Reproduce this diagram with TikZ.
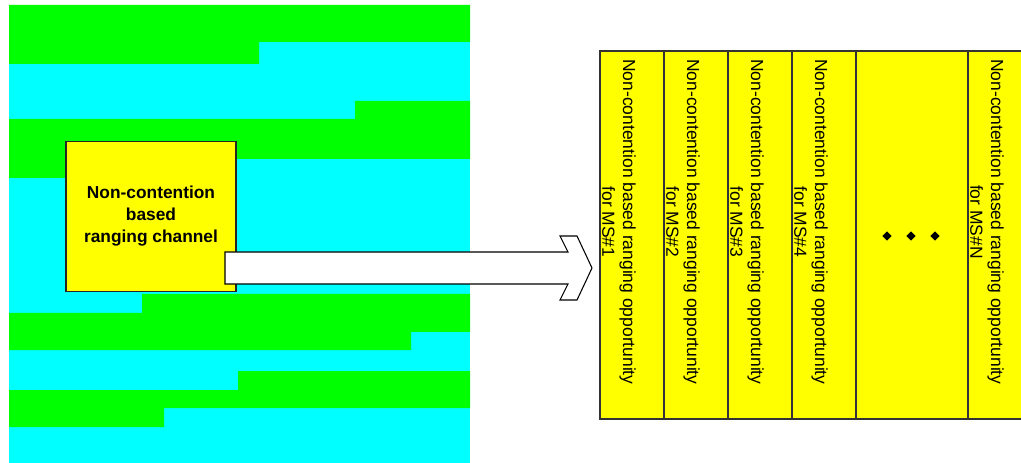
\documentclass[tikz,border=0pt]{standalone}
\usepackage{fontspec}
\setmainfont{Liberation Sans}
\usetikzlibrary{shapes.geometric}
\definecolor{bandgreen}{RGB}{0,255,0}
\definecolor{bandcyan}{RGB}{0,255,255}
\definecolor{slotyellow}{RGB}{255,255,0}
\tikzset{
    green-band/.style = {fill=bandgreen},
    cyan-band/.style = {fill=bandcyan},
    channel-box/.style = {draw=black!85, fill=slotyellow, line width=0.8pt, rectangle, minimum width=127.5pt, minimum height=113pt, align=center, font=\fontsize{13}{16.5}\selectfont\bfseries},
    slot-box/.style = {draw=black!80, fill=slotyellow, line width=0.8pt},
    slot-label/.style = {rotate=-90, align=center, font=\fontsize{13.1}{15.6}\selectfont, inner sep=0pt},
    block-arrow/.style = {draw=black, fill=white, line width=0.8pt, line join=miter},
    dot-mark/.style = {diamond, fill=black, inner sep=0pt, minimum size=7pt},
}

\begin{document}
\begin{tikzpicture}[x=0.75pt, y=-0.75pt]
\useasboundingbox (0,0) rectangle (1021,463);
\clip (0,0) rectangle (1021,463);

% frame with its staircase bands
\fill[cyan-band] (9,5) rectangle (470,463);
\fill[green-band] (9,5) -- (470,5) -- (470,42) -- (259,42) -- (259,64) -- (9,64) -- cycle;
\fill[green-band] (9,119) -- (355,119) -- (355,101) -- (470,101) -- (470,159) -- (150,159) -- (150,178) -- (9,178) -- cycle;
\fill[green-band] (9,313) -- (142,313) -- (142,294) -- (470,294) -- (470,332) -- (411,332) -- (411,350) -- (9,350) -- cycle;
\fill[green-band] (9,390) -- (238,390) -- (238,371) -- (470,371) -- (470,408) -- (164,408) -- (164,427) -- (9,427) -- cycle;

\node[channel-box] (chan) at (151,216.5) {Non-contention\\based\\ranging channel};

% ranging opportunities
\foreach \x/\n in {600/1,664/2,728/3,792/4,968/N} {
    \draw[slot-box] (\x,51) rectangle ++(64,368);
    \node[slot-label] (slot\n) at (\x+19,222) {Non-contention based ranging opportunity\\for MS\#\n};
}
\draw[slot-box] (856,51) rectangle (968,419);
\foreach \x [count=\i] in {887,911,935}
    \node[dot-mark] (dot\i) at (\x,236) {};

% mapping arrow
\coordinate (arrow-tail) at (225,268);
\coordinate (arrow-tip) at (592,268);
\draw[block-arrow] ([yshift=12pt]arrow-tail) -- ([xshift=-18pt,yshift=12pt]arrow-tip)
    -- ([xshift=-24pt,yshift=24pt]arrow-tip) -- ([xshift=-11.25pt,yshift=24pt]arrow-tip)
    -- (arrow-tip) -- ([xshift=-11.25pt,yshift=-24pt]arrow-tip)
    -- ([xshift=-24pt,yshift=-24pt]arrow-tip) -- ([xshift=-18pt,yshift=-12pt]arrow-tip)
    -- ([yshift=-12pt]arrow-tail) -- cycle;
\end{tikzpicture}
\end{document}
